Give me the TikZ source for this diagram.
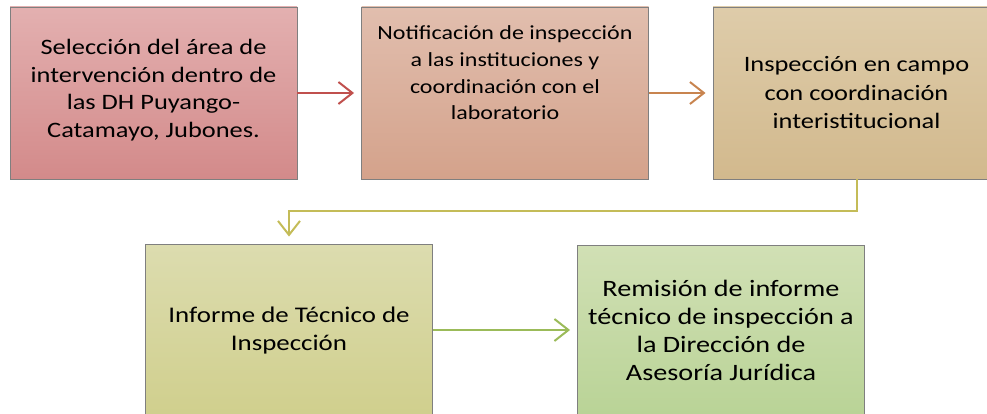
\documentclass[tikz,border=0pt]{standalone}
\usepackage{fontspec}
\setmainfont{Carlito}[FakeStretch=1.2]
\usetikzlibrary{arrows.meta}

\definecolor{rojoA}{HTML}{E3B0B0}
\definecolor{rojoB}{HTML}{D38A8A}
\definecolor{salmonA}{HTML}{E1BEAE}
\definecolor{salmonB}{HTML}{D4A28B}
\definecolor{arenaA}{HTML}{DECCAA}
\definecolor{arenaB}{HTML}{D2B98D}
\definecolor{olivaA}{HTML}{DCDCAF}
\definecolor{olivaB}{HTML}{D0CF8D}
\definecolor{verdeA}{HTML}{D1E0B5}
\definecolor{verdeB}{HTML}{B9D396}
\definecolor{flechaRoja}{HTML}{C0504D}
\definecolor{flechaNaranja}{HTML}{C8844F}
\definecolor{flechaOliva}{HTML}{C4BC58}
\definecolor{flechaVerde}{HTML}{9BBB59}
\definecolor{borde}{HTML}{7F7F7F}

\tikzset{
  caja/.style={draw=borde, line width=0.9pt, minimum width=287pt, minimum height=172pt, inner sep=0pt},
  texto/.style={align=center, font=\fontsize{22}{27.7}\selectfont},
  flecha/.style={line width=2pt, shorten >=7pt, -{Straight Barb[length=14pt,width=22pt,line width=2pt]}},
}

\begin{document}
\begin{tikzpicture}[x=1pt,y=-1pt]
      \useasboundingbox (0,0) rectangle (987,414);
      \draw
        (153.5,93) node[caja, top color=rojoA, bottom color=rojoB] (c1){}
        (505,93) node[caja, top color=salmonA, bottom color=salmonB] (c2){}
        (856.5,93) node[caja, top color=arenaA, bottom color=arenaB] (c3){}
        (289,330) node[caja, top color=olivaA, bottom color=olivaB] (c4){}
        (721,331) node[caja, top color=verdeA, bottom color=verdeB] (c5){};
      \draw
        (153.5,90) node[texto] (t1){Selección del área de\\intervención dentro de\\las DH Puyango-\\Catamayo, Jubones.}
        (505,73) node[texto, font=\fontsize{20}{26.7}\selectfont] (t2){Notificación de inspección\\a las instituciones y\\coordinación con el\\laboratorio}
        (856.5,93) node[texto, font=\fontsize{22}{28.5}\selectfont] (t3){Inspección en campo\\con coordinación\\interistitucional}
        (289,331) node[texto, font=\fontsize{22.4}{28}\selectfont] (t4){Informe de Técnico de\\Inspección}
        (721,330) node[texto, font=\fontsize{23.5}{28}\selectfont] (t5){Remisión de informe\\técnico de inspección a\\la Dirección de\\Asesoría Jurídica};
      \begin{scope}[flecha]
        \draw[flechaRoja] (c1.east) to (c2.west);
        \draw[flechaNaranja] (c2.east) to (c3.west);
        \draw[flechaOliva] (c3.south) -- ++(0,32) -| (c4.north);
        \draw[flechaVerde] (c4.east) to (c4.east -| c5.west);
      \end{scope}
    \end{tikzpicture}
\end{document}
